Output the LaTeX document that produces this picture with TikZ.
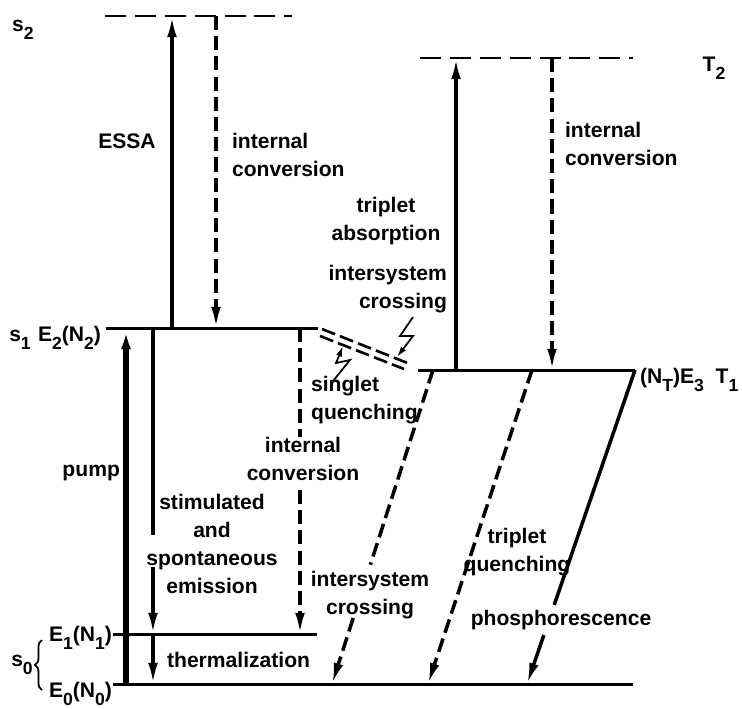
\documentclass[tikz,border=0pt]{standalone}
\usepackage{fontspec}
\setmainfont{Liberation Sans}
\usepackage{tikz}
\usetikzlibrary{arrows.meta,calc,decorations.pathreplacing}
\newcommand{\lowidx}[1]{\raisebox{-0.75ex}{\fontsize{10}{10}\selectfont #1}}

\begin{document}
\begin{tikzpicture}[x=0.2mm,y=-0.2mm,>={Latex[length=12pt,width=5.5pt]},line cap=butt,
    every node/.style={font=\fontsize{12}{16}\selectfont\bfseries,inner sep=1pt,align=center},
    level/.style={line width=1.7pt},
    dlevel/.style={line width=1.7pt,dash pattern=on 12pt off 5pt},
    radi/.style={->,line width=2pt},
    nonradi/.style={->,line width=2pt,dash pattern=on 8pt off 3.5pt},
    zig/.style={->,line width=1pt,>={Latex[length=6pt,width=3.5pt]}}]
    \useasboundingbox (0,0) rectangle (742,708);
    \foreach \nm/\xa/\xb/\y in {S2/105/292/16,T2/420/633/58,S1/106/318/328,
        T1/418/635/370,E1/113/317/634,E0/113/633/684} {
        \coordinate (\nm) at (\xa,\y);
        \coordinate (\nm r) at (\xb,\y);
    }
    \draw[dlevel] (S2) -- (S2r);
    \draw[dlevel] (T2) -- (T2r);
    \foreach \nm in {S1,T1,E1,E0}
        \draw[level] (\nm) -- (\nm r);

    \draw[radi] (172,0 |- S1) -- (172,0 |- S2);
    \draw[nonradi] (216,0 |- S2) -- (216,0 |- S1);
    \draw[radi] (456,0 |- T1) -- (456,0 |- T2);
    \draw[nonradi] (552,0 |- T2) -- (552,0 |- T1);
    \draw[radi,line width=3.6pt] (126,0 |- E0) -- (126,0 |- S1);
    \draw[radi,-] (153,0 |- S1) -- (153,535);
    \draw[radi] (153,567) -- (153,0 |- E1);
    \draw[radi] (153,0 |- E1) -- (153,0 |- E0);
    \draw[nonradi,-] (300,0 |- S1) -- (300,437);
    \draw[nonradi] (300,490) -- (300,0 |- E1);

    \coordinate (iscA) at (433,370);
    \coordinate (iscB) at (332,684);
    \coordinate (tqA) at (532,370);
    \coordinate (tqB) at (428,684);
    \coordinate (phB) at (527,684);
    \draw[nonradi,-] (iscA) -- ($(iscA)!0.62!(iscB)$);
    \draw[nonradi] ($(iscA)!0.79!(iscB)$) -- (iscB);
    \draw[nonradi] (tqA) -- (tqB);
    \draw[radi,-] (T1r) -- ($(T1r)!0.748!(phB)$);
    \draw[radi] ($(T1r)!0.844!(phB)$) -- (phB);

    \draw[level,dash pattern=on 8pt off 3pt,line width=1.5pt] (322,329) -- (410,364);
    \draw[level,dash pattern=on 8pt off 3pt,line width=1.5pt] (320,336) -- (404,369);
    \draw[zig] (333,381) -- (350,360) -- (336,363) -- (343,346);
    \draw[zig] (413,317) -- (400,336) -- (413,336) -- (397,357);
    \draw[decorate,decoration={brace,amplitude=4pt},line width=1pt] (42,690) -- (42,640);

    \node (s2lab) at (23,30) {s\lowidx{2}};
    \node (essalab) at (127,141) {ESSA};
    \node[anchor=west,align=left] (icslab) at (230,155) {internal\\conversion};
    \node[anchor=west,align=left] (ictlab) at (563,144) {internal\\conversion};
    \node (t2lab) at (714,68) {T\lowidx{2}};
    \node (talab) at (386,221) {triplet\\absorption};
    \node[anchor=east,align=right] (isclabA) at (449,289) {intersystem\\crossing};
    \node (s1lab) at (20,340) {s\lowidx{1}};
    \node[anchor=east] (e2lab) at (103,338) {E\lowidx{2}(N\lowidx{2})};
    \node[anchor=west,align=left] (sqlab) at (309,400) {singlet\\quenching};
    \node[anchor=west] (t1lab) at (638,380) {(N\lowidx{T})E\lowidx{3}\ \ T\lowidx{1}};
    \node[anchor=east] (pumplab) at (122,473) {pump};
    \node (emlab) at (212,544) {stimulated\\and\\spontaneous\\emission};
    \node (icelab) at (303,459) {internal\\conversion};
    \node (isclabB) at (370,595) {intersystem\\crossing};
    \node (tqlab) at (517,552) {triplet\\quenching};
    \node (phlab) at (561,620) {phosphorescence};
    \node[anchor=west] (thlab) at (165,660) {thermalization};
    \node[anchor=east] (e1lab) at (114,638) {E\lowidx{1}(N\lowidx{1})};
    \node[anchor=east] (e0lab) at (114,694) {E\lowidx{0}(N\lowidx{0})};
    \node (s0lab) at (22,665) {s\lowidx{0}};
\end{tikzpicture}
\end{document}
